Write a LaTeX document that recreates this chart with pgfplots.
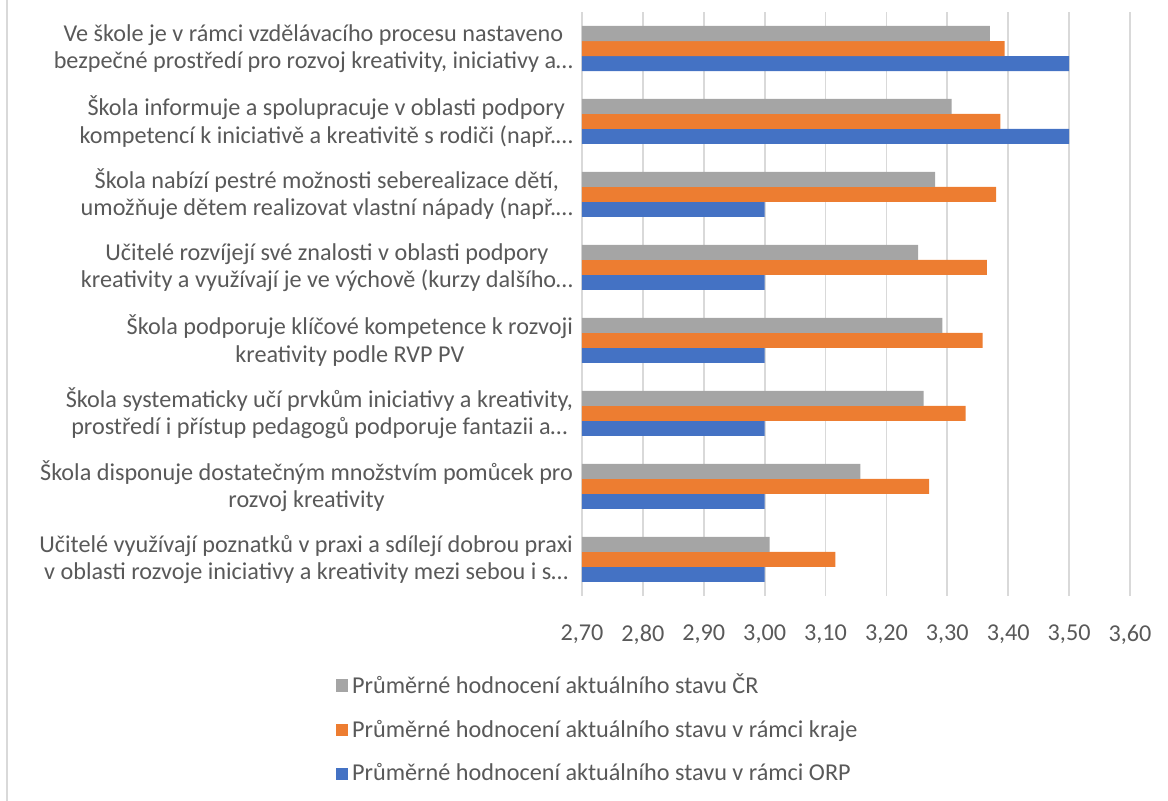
\documentclass[border=0pt]{standalone}
\usepackage{fontspec}
\setmainfont{Carlito}
\usepackage{pgfplots}
\pgfplotsset{compat=1.18}
\definecolor{cgray}{HTML}{A5A5A5}
\definecolor{corange}{HTML}{ED7D31}
\definecolor{cblue}{HTML}{4472C4}
\definecolor{cgrid}{HTML}{D9D9D9}
\definecolor{ctext}{HTML}{595959}
\newcommand{\chfont}{\fontsize{12.1}{13.6}\selectfont}
\begin{document}
\begin{tikzpicture}
\begin{axis}[
  at={(0,0)}, anchor=south west,
  scale only axis,
  width=274pt, height=292pt,
  xmin=2.7, xmax=3.6,
  ymin=-0.5, ymax=7.5,
  xbar, bar width=7.5pt,
  axis line style={draw=none},
  xtick={2.7,2.8,2.9,3.0,3.1,3.2,3.3,3.4,3.5,3.6},
  ytick={0,1,2,3,4,5,6,7},
  major tick length=0pt,
  xmajorgrids,
  grid style={cgrid, line width=0.9pt},
  /pgf/number format/.cd, use comma, fixed, fixed zerofill, precision=2, assume math mode=true,
  /pgfplots/.cd,
  xticklabel style={font=\chfont, text=ctext, yshift=-11pt},
  yticklabel style={font=\chfont, text=ctext, align=center, xshift=-1pt},
  yticklabels={
    {Učitelé využívají poznatků v praxi a sdílejí dobrou praxi\\v oblasti rozvoje iniciativy a kreativity mezi sebou i s…},
    {Škola disponuje dostatečným množstvím pomůcek pro\\rozvoj kreativity},
    {Škola systematicky učí prvkům iniciativy a kreativity,\\prostředí i přístup pedagogů podporuje fantazii a…},
    {Škola podporuje klíčové kompetence k rozvoji\\kreativity podle RVP PV},
    {Učitelé rozvíjejí své znalosti v oblasti podpory\\kreativity a využívají je ve výchově (kurzy dalšího…},
    {Škola nabízí pestré možnosti seberealizace dětí,\\umožňuje dětem realizovat vlastní nápady (např.…},
    {Škola informuje a spolupracuje v oblasti podpory\\kompetencí k iniciativě a kreativitě s rodiči (např.…},
    {Ve škole je v rámci vzdělávacího procesu nastaveno\\bezpečné prostředí pro rozvoj kreativity, iniciativy a…}
  },
  reverse legend,
  legend style={at={(-0.45,-0.126)}, anchor=north west, draw=none, fill=none,
    font=\chfont, text=ctext, row sep=7.7pt, inner sep=0pt},
  legend cell align=left,
  legend image code/.code={\fill[#1,draw=none] (0pt,-3.1pt) rectangle (6.2pt,3.1pt);},
]
\addplot[fill=cblue, draw=none, bar shift=-7.5pt] coordinates {
 (3.00,0) (3.00,1) (3.00,2) (3.00,3) (3.00,4) (3.00,5) (3.50,6) (3.50,7)};
\addplot[fill=corange, draw=none, bar shift=0pt] coordinates {
 (3.116,0) (3.270,1) (3.330,2) (3.358,3) (3.365,4) (3.380,5) (3.387,6) (3.394,7)};
\addplot[fill=cgray, draw=none, bar shift=7.5pt] coordinates {
 (3.008,0) (3.157,1) (3.261,2) (3.292,3) (3.252,4) (3.280,5) (3.307,6) (3.370,7)};
\legend{Průměrné hodnocení aktuálního stavu v rámci ORP,
        Průměrné hodnocení aktuálního stavu v rámci kraje,
        Průměrné hodnocení aktuálního stavu ČR}
\end{axis}
\draw[cgrid, line width=0.9pt] (-287.5pt,-102.5pt) -- (-287.5pt,298pt);
\pgfresetboundingbox
\path (-291pt,-102.5pt) rectangle (293pt,298pt);
\end{tikzpicture}
\end{document}
